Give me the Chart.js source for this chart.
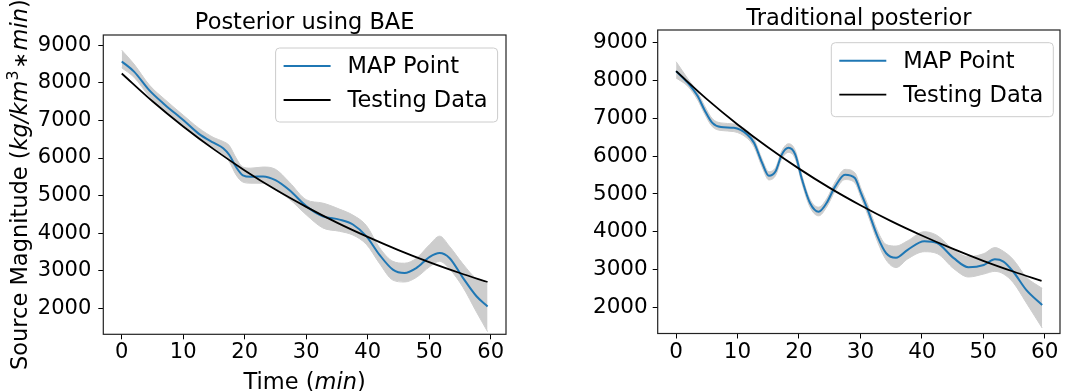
<!DOCTYPE html>
<html>
<head>
<meta charset="utf-8">
<script src="https://cdn.jsdelivr.net/npm/chart.js@4.4.1/dist/chart.umd.min.js"></script>
<style>
  html, body { margin: 0; padding: 0; background: #fff; }
  #wrap { position: relative; width: 1068px; height: 391px; }
  .panel { position: absolute; top: 0; width: 534px; height: 391px; }
</style>
</head>
<body>
<div id="wrap">
  <div class="panel" style="left:0"><canvas id="bae" width="534" height="391"></canvas></div>
  <div class="panel" style="left:534px"><canvas id="trad" width="534" height="391"></canvas></div>
</div>
<script>
// testing data, same curve in both panels
const testTime = [0, 5, 10, 15, 20, 25, 30, 35, 40, 45, 50, 55, 59.5];
const testValues = [8250, 7510, 6840, 6230, 5670, 5160, 4700, 4280, 3900, 3550, 3230, 2940, 2700];

// posterior using BAE
const baeTime = [0, 2, 4.5, 7, 10, 12.5, 15, 16.5, 17.5, 18.6, 19.7, 21, 23, 25, 27.3, 30,
  32.7, 35.4, 37.6, 39.8, 41.9, 44.1, 46, 47.9, 50.1, 51.7, 53.3, 55.5, 57.7, 59.5];
const baeMap = [8570, 8300, 7800, 7420, 7010, 6650, 6400, 6260, 6080, 5760, 5540, 5500, 5510, 5410, 5140, 4720,
  4450, 4360, 4230, 3915, 3430, 3030, 2940, 3070, 3370, 3470, 3340, 2810, 2320, 2050];
const baeLow = [8400, 8150, 7640, 7260, 6860, 6500, 6230, 6100, 5900, 5550, 5360, 5330, 5330, 5150, 4900, 4490,
  4140, 4050, 3950, 3700, 3200, 2750, 2700, 2820, 3110, 3250, 3050, 2560, 1900, 1380];
const baeHigh = [8870, 8500, 7940, 7560, 7140, 6800, 6540, 6440, 6330, 6000, 5760, 5730, 5760, 5700, 5350, 4890,
  4800, 4640, 4480, 4200, 3620, 3250, 3200, 3330, 3700, 3920, 3650, 3180, 2780, 2650];

// traditional posterior
const tradTime = [0, 1.9, 3.5, 4.6, 5.9, 7.3, 9.4, 11.6, 12.7, 14, 15.1, 16.2, 17.2, 18.3, 19.4, 20.5,
  21.8, 23.2, 24.5, 25.9, 27.5, 29.1, 30.1, 31.2, 32.8, 34.2, 35.8, 37.7, 40.4, 42.5, 45.2, 47.6,
  50.1, 51.9, 53.3, 54.9, 57, 59.6];
const tradMap = [8250, 7940, 7590, 7230, 6880, 6770, 6750, 6570, 6350, 5820, 5480, 5600, 6040, 6220, 6040, 5380,
  4760, 4530, 4760, 5200, 5510, 5420, 5020, 4580, 3870, 3430, 3310, 3520, 3750, 3700, 3300, 3060,
  3120, 3270, 3210, 2940, 2460, 2060];
const tradLow = [8070, 7850, 7490, 7130, 6780, 6680, 6650, 6470, 6240, 5710, 5370, 5490, 5930, 6100, 5930, 5270,
  4650, 4420, 4650, 5080, 5380, 5290, 4900, 4450, 3730, 3250, 3050, 3280, 3470, 3420, 3020, 2800,
  2880, 2950, 2880, 2650, 2120, 1450];
const tradHigh = [8500, 8050, 7690, 7340, 6990, 6880, 6850, 6670, 6450, 5920, 5590, 5700, 6140, 6330, 6150, 5480,
  4860, 4650, 4870, 5320, 5650, 5560, 5150, 4720, 4020, 3660, 3620, 3760, 4000, 3900, 3520, 3340,
  3420, 3580, 3480, 3260, 2800, 2500];

const xTicks = [0, 10, 20, 30, 40, 50, 60];
const yTicks = [2000, 3000, 4000, 5000, 6000, 7000, 8000, 9000];

const FONT = "'DejaVu Sans', sans-serif";
const BAND = "rgb(205,205,205)";

function pts(xs, ys) {
  return xs.map((x, i) => ({ x: x, y: ys[i] }));
}

// draws a row of text pieces, some italic or superscript
function drawRuns(ctx, runs, x, y, size) {
  const fontOf = (r) => (r.italic ? "italic " : "") + size * (r.scale || 1) + "px " + FONT;
  let total = 0;
  runs.forEach((r) => {
    ctx.font = fontOf(r);
    total += ctx.measureText(r.text).width + (r.gap || 0) * 2;
  });
  let cx = x - total / 2;
  ctx.textAlign = "left";
  ctx.textBaseline = "alphabetic";
  runs.forEach((r) => {
    ctx.font = fontOf(r);
    cx += r.gap || 0;
    ctx.fillText(r.text, cx, y - size * (r.rise || 0));
    cx += ctx.measureText(r.text).width + (r.gap || 0);
  });
}

const decor = {
  id: "decor",
  afterDraw(chart, args, o) {
    const ctx = chart.ctx;
    const a = chart.chartArea;
    ctx.save();
    // frame
    ctx.strokeStyle = "#222";
    ctx.lineWidth = 1.2;
    ctx.strokeRect(a.left, a.top, a.right - a.left, a.bottom - a.top);

    ctx.fillStyle = "#000";
    ctx.font = o.titleSize + "px " + FONT;
    ctx.textAlign = "center";
    ctx.textBaseline = "alphabetic";
    ctx.fillText(o.title, (a.left + a.right) / 2, a.top - o.titleGap);

    if (o.axisLabels) {
      drawRuns(ctx, [{ text: "Time (" }, { text: "min", italic: true }, { text: ")" }],
        (a.left + a.right) / 2, o.xLabelY, o.labelSize);
      ctx.save();
      ctx.translate(o.yLabelX, (a.top + a.bottom) / 2);
      ctx.rotate(-Math.PI / 2);
      drawRuns(ctx, [
        { text: "Source Magnitude (" },
        { text: "kg/km", italic: true },
        { text: "3", scale: 0.7, rise: 0.42 },
        { text: "\u2217", scale: 0.85, gap: 2 },
        { text: "min", italic: true },
        { text: ")" }
      ], 0, 0, o.labelSize);
      ctx.restore();
    }

    // legend inside the axes, upper right
    const w = 222, h = 74;
    const bx = a.right - o.legendRight - w;
    const by = a.top + o.legendTop;
    ctx.beginPath();
    ctx.roundRect(bx, by, w, h, 4);
    ctx.fillStyle = "rgba(255,255,255,0.8)";
    ctx.fill();
    ctx.strokeStyle = "#cccccc";
    ctx.lineWidth = 1;
    ctx.stroke();
    const items = chart.data.datasets.filter((d) => d.label);
    items.forEach((d, i) => {
      const ry = by + 18 + i * 34;
      ctx.beginPath();
      ctx.moveTo(bx + 8, ry);
      ctx.lineTo(bx + 55, ry);
      ctx.strokeStyle = d.borderColor;
      ctx.lineWidth = d.borderWidth;
      ctx.stroke();
      ctx.fillStyle = "#000";
      ctx.font = o.legendSize + "px " + FONT;
      ctx.textAlign = "left";
      ctx.textBaseline = "middle";
      ctx.fillText(d.label, bx + 72, ry + 1);
    });
    ctx.restore();
  }
};

function makeChart(id, time, map, low, high, lay) {
  const tickFont = { family: FONT, size: lay.tickSize };
  return new Chart(document.getElementById(id), {
    type: "line",
    data: {
      datasets: [
        { data: pts(time, low), borderColor: BAND, borderWidth: 1, pointRadius: 0,
          fill: false, cubicInterpolationMode: "monotone", order: 3 },
        { data: pts(time, high), borderColor: BAND, borderWidth: 1, pointRadius: 0,
          backgroundColor: BAND, fill: "-1", cubicInterpolationMode: "monotone", order: 3 },
        { label: "MAP Point", data: pts(time, map), borderColor: "#1f77b4", borderWidth: 2,
          pointRadius: 0, cubicInterpolationMode: "monotone", order: 2 },
        { label: "Testing Data", data: pts(testTime, testValues), borderColor: "#000", borderWidth: 1.8,
          pointRadius: 0, cubicInterpolationMode: "monotone", order: 1 }
      ]
    },
    options: {
      responsive: false,
      animation: false,
      layout: { padding: { left: 0, top: lay.top, right: lay.right, bottom: 0 } },
      plugins: {
        legend: { display: false },
        tooltip: { enabled: false },
        decor: lay.decor
      },
      scales: {
        x: {
          type: "linear",
          min: -3,
          max: 62.5,
          afterBuildTicks: (s) => { s.ticks = xTicks.map((v) => ({ value: v })); },
          afterFit: (s) => { s.height = lay.xHeight; },
          ticks: { color: "#000", font: tickFont, padding: 1, maxRotation: 0, callback: (v) => String(v) },
          grid: { drawOnChartArea: false, drawTicks: true, tickLength: 5, color: "#000", lineWidth: 1 },
          border: { display: false }
        },
        y: {
          type: "linear",
          min: lay.ymin,
          max: lay.ymax,
          afterBuildTicks: (s) => { s.ticks = yTicks.map((v) => ({ value: v })); },
          afterFit: (s) => { s.width = lay.yWidth; },
          ticks: { color: "#000", font: tickFont, padding: lay.yPad, callback: (v) => String(v) },
          grid: { drawOnChartArea: false, drawTicks: true, tickLength: 5, color: "#000", lineWidth: 1 },
          border: { display: false }
        }
      }
    },
    plugins: [decor]
  });
}

makeChart("bae", baeTime, baeMap, baeLow, baeHigh, {
  top: 35, right: 28, yWidth: 103.3, xHeight: 56.7, ymin: 1308, ymax: 9274, tickSize: 21, yPad: 7,
  decor: { title: "Posterior using BAE", titleSize: 22.5, titleGap: 6, axisLabels: true,
    labelSize: 22.5, xLabelY: 389, yLabelX: 27, legendRight: 8.4, legendTop: 13, legendSize: 22.5 }
});

makeChart("trad", tradTime, tradMap, tradLow, tradHigh, {
  top: 30, right: 8, yWidth: 123.7, xHeight: 57.5, ymin: 1305, ymax: 9340, tickSize: 21.5, yPad: 5,
  decor: { title: "Traditional posterior", titleSize: 22.5, titleGap: 5, axisLabels: false,
    labelSize: 22.5, legendRight: 6.7, legendTop: 12.7, legendSize: 22.5 }
});
</script>
</body>
</html>
